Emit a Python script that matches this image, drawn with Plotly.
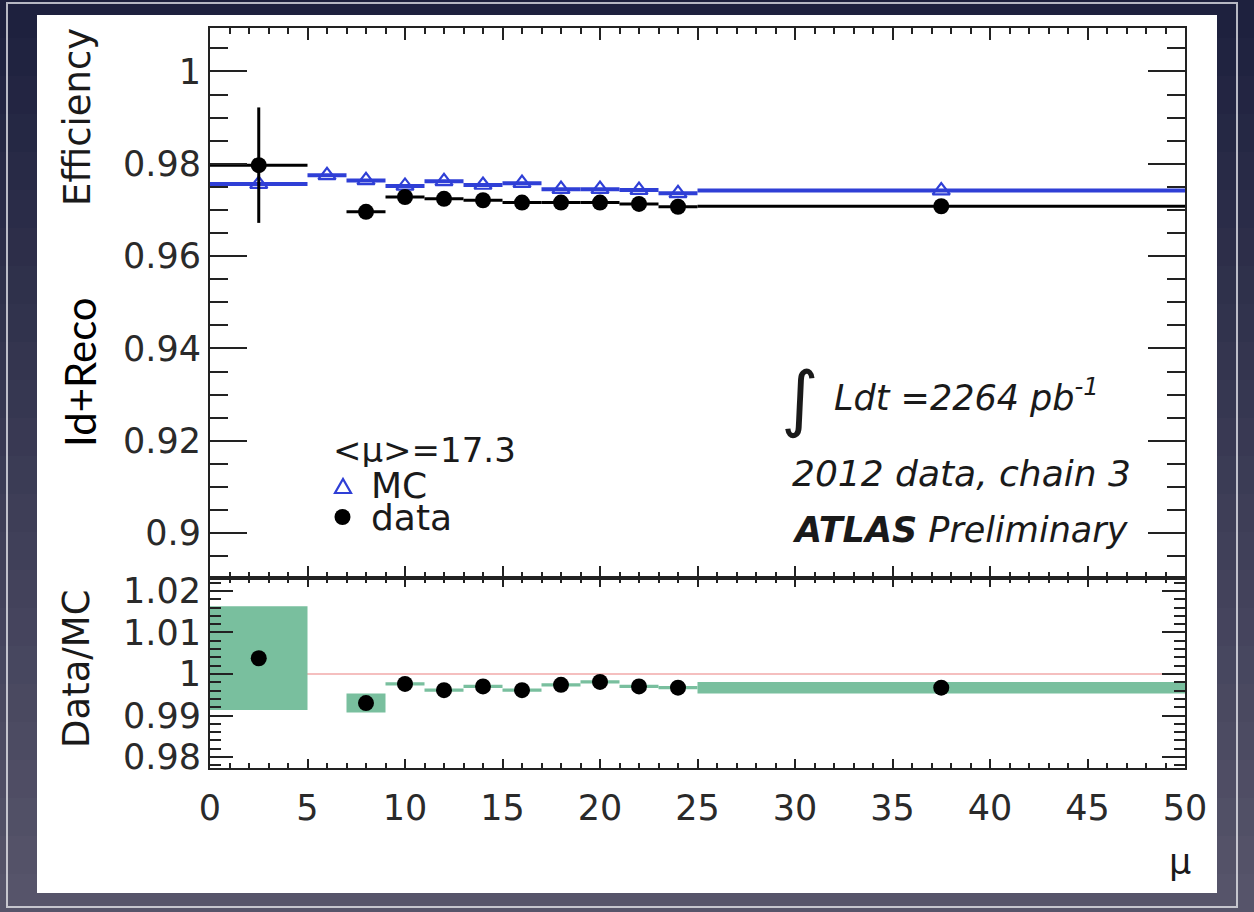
import plotly.graph_objects as go

W, H = 1254, 912

# Monte Carlo efficiency per pile-up bin
mc_mu = [2.5, 6, 8, 10, 12, 14, 16, 18, 20, 22, 24, 37.5]
mc_halfwidth = [2.5, 1, 1, 1, 1, 1, 1, 1, 1, 1, 1, 12.5]
mc_eff = [0.9756, 0.9775, 0.9764, 0.9752, 0.9762, 0.9754, 0.9758,
          0.9745, 0.9745, 0.9743, 0.9736, 0.9742]

# Measured efficiency in data
data_mu = [2.5, 8, 10, 12, 14, 16, 18, 20, 22, 24, 37.5]
data_halfwidth = [2.5, 1, 1, 1, 1, 1, 1, 1, 1, 1, 12.5]
data_eff = [0.9797, 0.9696, 0.9728, 0.9724, 0.9721, 0.9716, 0.9716,
            0.9716, 0.9713, 0.9707, 0.9708]
data_err = [0.0125, 0.0005, 0.0004, 0.0004, 0.0004, 0.0004, 0.0004,
            0.0004, 0.0004, 0.0004, 0.0004]

# Data/MC ratio and its uncertainty band
ratio = [1.0038, 0.9930, 0.9976, 0.9961, 0.9970, 0.9961, 0.9974,
         0.9981, 0.9970, 0.9967, 0.9967]
ratio_err = [0.0125, 0.0023, 0.0004, 0.0004, 0.0004, 0.0004, 0.0004,
             0.0004, 0.0004, 0.0004, 0.0014]

BLUE = "#2f3fd6"
GREEN = "#79bf9e"
AXIS = "#222222"
FONT = "DejaVu Sans"


def px(x):
    return x / W


def py(y):
    return 1 - y / H


fig = go.Figure()

fig.add_trace(go.Scatter(
    x=mc_mu, y=mc_eff, mode="markers", name="MC",
    marker=dict(symbol="triangle-up-open", size=15, color=BLUE,
                line=dict(width=2.2, color=BLUE)),
    error_x=dict(type="data", array=mc_halfwidth, color=BLUE,
                 thickness=4, width=0),
    xaxis="x", yaxis="y", showlegend=False))

fig.add_trace(go.Scatter(
    x=data_mu, y=data_eff, mode="markers", name="data",
    marker=dict(symbol="circle", size=16, color="black"),
    error_x=dict(type="data", array=data_halfwidth, color="black",
                 thickness=3, width=0),
    error_y=dict(type="data", array=data_err, color="black",
                 thickness=3, width=0),
    xaxis="x", yaxis="y", showlegend=False))

fig.add_trace(go.Bar(
    x=data_mu,
    y=[2 * e for e in ratio_err],
    base=[r - e for r, e in zip(ratio, ratio_err)],
    width=[2 * h for h in data_halfwidth],
    marker=dict(color=GREEN, line=dict(width=0)),
    xaxis="x2", yaxis="y2", showlegend=False))

fig.add_trace(go.Scatter(
    x=data_mu, y=ratio, mode="markers",
    marker=dict(symbol="circle", size=16, color="black"),
    xaxis="x2", yaxis="y2", showlegend=False))

x_dom = [px(210), px(1185)]
common_axis = dict(showline=True, linecolor=AXIS, linewidth=2, mirror="allticks",
                   ticks="inside", tickcolor=AXIS, tickwidth=2,
                   showgrid=False, zeroline=False, automargin=False,
                   tickfont=dict(family=FONT, size=35, color="#2a2a2a"))

fig.update_layout(
    width=W, height=H,
    autosize=False,
    margin=dict(l=0, r=0, t=0, b=0, pad=0, autoexpand=False),
    paper_bgcolor="#3b3d54",
    plot_bgcolor="white",
    barmode="overlay",
    showlegend=False,
    xaxis=dict(common_axis, domain=x_dom, anchor="y", range=[0, 50],
               dtick=5, tick0=0, ticklen=12, showticklabels=False,
               matches="x2",
               minor=dict(dtick=1, ticklen=6, ticks="inside",
                          tickcolor=AXIS, tickwidth=2)),
    yaxis=dict(common_axis, domain=[py(578), py(28)], anchor="x",
               range=[0.8903, 1.0094], dtick=0.02, tick0=0.9, ticklen=37,
               minor=dict(dtick=0.005, ticklen=18, ticks="inside",
                          tickcolor=AXIS, tickwidth=2)),
    xaxis2=dict(common_axis, domain=x_dom, anchor="y2", range=[0, 50],
                dtick=5, tick0=0, ticklen=9, ticklabelstandoff=8,
                minor=dict(dtick=1, ticklen=5, ticks="inside",
                           tickcolor=AXIS, tickwidth=2)),
    yaxis2=dict(common_axis, domain=[py(768), py(578)], anchor="x2",
                range=[0.97735, 1.02313], dtick=0.01, tick0=1, ticklen=23,
                minor=dict(dtick=0.002, ticklen=11, ticks="inside",
                           tickcolor=AXIS, tickwidth=2)),
)

# slide backdrop: dark navy at the top fading to slate grey at the bottom
top_rgb, bottom_rgb = (30, 33, 62), (86, 84, 106)
n_bands = 24
shapes = []
for i in range(n_bands):
    t = i / (n_bands - 1)
    c = tuple(round(a + (b - a) * t) for a, b in zip(top_rgb, bottom_rgb))
    shapes.append(dict(type="rect", xref="paper", yref="paper", layer="below",
                       x0=0, x1=1, y0=1 - (i + 1) / n_bands, y1=1 - i / n_bands,
                       fillcolor=f"rgb{c}", line=dict(width=0)))

shapes += [
    # white slide panel behind the canvas
    dict(type="rect", xref="paper", yref="paper", layer="below",
         x0=px(37), x1=px(1217), y0=py(893), y1=py(15),
         fillcolor="white", line=dict(width=0)),
    # chalk-style outline of the slide frame
    dict(type="rect", xref="paper", yref="paper", layer="above",
         x0=px(7), x1=px(1237), y0=py(907), y1=py(3),
         line=dict(color="rgba(235,235,240,0.75)", width=2)),
    # reference line at ratio = 1
    dict(type="line", xref="x2", yref="y2", layer="below",
         x0=0, x1=50, y0=1, y1=1,
         line=dict(color="#f2aaaa", width=1.5)),
    # legend keys
    dict(type="path", xref="paper", yref="paper", layer="above",
         path=f"M {px(335)},{py(493)} L {px(351)},{py(493)} L {px(343)},{py(479)} Z",
         line=dict(color=BLUE, width=2.2), fillcolor="rgba(0,0,0,0)"),
    dict(type="circle", xref="paper", yref="paper", layer="above",
         x0=px(334.5), x1=px(350.5), y0=py(525), y1=py(509),
         fillcolor="black", line=dict(color="black", width=0)),
]


def note(text, x, y, size=36, xanchor="left", angle=0, family=FONT,
         color="#1a1a1a", height=None):
    return dict(text=text, x=px(x), y=py(y), xref="paper", yref="paper",
                xanchor=xanchor, yanchor="middle", textangle=angle,
                showarrow=False, height=height,
                font=dict(family=family, size=size, color=color))


annotations = [
    note("Efficiency", 78, 117, size=37, xanchor="center", angle=-90),
    note("Id+Reco", 80, 372, size=42, xanchor="center", angle=-90,
         family="Lato", color="black"),
    note("Data/MC", 76, 669, size=37, xanchor="center", angle=-90),
    note("μ", 1180, 862, size=35, xanchor="center"),
    note("&lt;μ&gt;=17.3", 331, 450, size=34, height=34),
    note("MC", 369, 485, size=36, height=31),
    note("data", 369, 517, size=36, height=31),
    note("∫", 800, 398, size=72, xanchor="center"),
    note("<i>Ldt =2264 pb<sup>-1</sup></i>", 832, 395, size=35),
    note("<i>2012 data, chain 3</i>", 790, 473, size=36),
    note("<b><i>ATLAS</i></b><i> Preliminary</i>", 790, 530, size=35),
]

fig.update_layout(shapes=shapes, annotations=annotations)

fig.write_html(
    "out.html",
    post_script=("document.documentElement.style.overflow='hidden';"
                 "document.body.style.margin='0';"
                 "document.body.style.overflow='hidden';"),
)
